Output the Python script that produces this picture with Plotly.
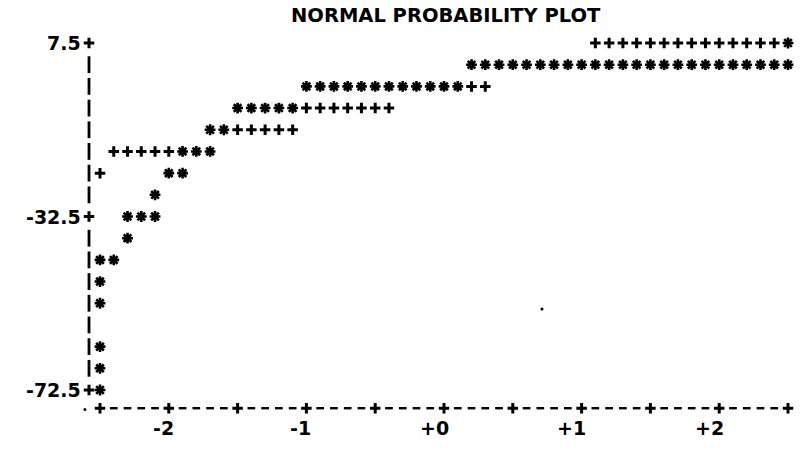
import numpy as np
import plotly.graph_objects as go

# ---------------- data ----------------
title = "NORMAL PROBABILITY PLOT"

# '*' = observations: normal quantile (x) and value (y)
star_q = [2.5,
          0.2, 0.3, 0.4, 0.5, 0.6, 0.7, 0.8, 0.9, 1.0, 1.1, 1.2, 1.3,
          1.4, 1.5, 1.6, 1.7, 1.8, 1.9, 2.0, 2.1, 2.2, 2.3, 2.4, 2.5,
          -1.0, -0.9, -0.8, -0.7, -0.6, -0.5, -0.4, -0.3, -0.2, -0.1, 0.0, 0.1,
          -1.5, -1.4, -1.3, -1.2, -1.1,
          -1.7, -1.6,
          -1.9, -1.8, -1.7,
          -2.0, -1.9,
          -2.1,
          -2.3, -2.2, -2.1,
          -2.3,
          -2.5, -2.4,
          -2.5, -2.5, -2.5, -2.5, -2.5]
star_v = [7.5,
          2.5, 2.5, 2.5, 2.5, 2.5, 2.5, 2.5, 2.5, 2.5, 2.5, 2.5, 2.5,
          2.5, 2.5, 2.5, 2.5, 2.5, 2.5, 2.5, 2.5, 2.5, 2.5, 2.5, 2.5,
          -2.5, -2.5, -2.5, -2.5, -2.5, -2.5, -2.5, -2.5, -2.5, -2.5, -2.5, -2.5,
          -7.5, -7.5, -7.5, -7.5, -7.5,
          -12.5, -12.5,
          -17.5, -17.5, -17.5,
          -22.5, -22.5,
          -27.5,
          -32.5, -32.5, -32.5,
          -37.5,
          -42.5, -42.5,
          -47.5, -52.5, -62.5, -67.5, -72.5]

# '+' = reference normal line
ref_q = [1.1, 1.2, 1.3, 1.4, 1.5, 1.6, 1.7, 1.8, 1.9, 2.0, 2.1, 2.2, 2.3, 2.4,
         0.2, 0.3,
         -1.0, -0.9, -0.8, -0.7, -0.6, -0.5, -0.4,
         -1.5, -1.4, -1.3, -1.2, -1.1,
         -2.4, -2.3, -2.2, -2.1, -2.0,
         -2.5]
ref_v = [7.5] * 14 + [-2.5] * 2 + [-7.5] * 7 + [-12.5] * 5 + [-17.5] * 5 + [-22.5]

# stray specks on the printout
speck_q = [0.712, -2.61]
speck_v = [-53.8, -77.0]

y_ticks = [7.5, -32.5, -72.5]
y_tick_labels = ["7.5", "-32.5", "-72.5"]
x_ticks = [-2, -1, 0, 1, 2]
x_tick_labels = ["-2", "-1", "+0", "+1", "+2"]

# ---------------- layout geometry ----------------
W, H = 801, 449
px_x0, px_x1 = 100.0, 788.0      # pixel of quantile -2.5 / +2.5
px_y0, px_y1 = 43.0, 390.0       # pixel of value 7.5 / -72.5
sx = 5.0 / (px_x1 - px_x0)
sy = 80.0 / (px_y1 - px_y0)
x_range = [-2.5 - px_x0 * sx, -2.5 + (W - px_x0) * sx]
y_range = [7.5 - (H - px_y0) * sy, 7.5 + px_y0 * sy]

axis_x = -2.5 - 11 * sx          # column of the '|' axis
axis_row = -76.7                 # row of the '+----+' axis
label_row = -81.2

BLACK = "#000000"
FONT = dict(family="DejaVu Sans", size=19, color=BLACK, weight="bold")
TITLE_FONT = dict(family="DejaVu Sans", size=19.5, color=BLACK, weight="bold")
PLUS = dict(symbol="cross-thin-open", size=7.5, color=BLACK,
            line=dict(width=3.0, color=BLACK))

fig = go.Figure()

# vertical axis made of '|' characters
bar_rows = [v for v in np.arange(2.5, -70, -5.0) if abs(v - (-32.5)) > 1e-6]
fig.add_trace(go.Scatter(
    x=[axis_x] * len(bar_rows), y=bar_rows, mode="markers", hoverinfo="skip",
    marker=dict(symbol="line-ns-open", size=12, color=BLACK,
                line=dict(width=2.8, color=BLACK)), showlegend=False))
# y tick '+' on the axis
fig.add_trace(go.Scatter(
    x=[axis_x] * len(y_ticks), y=y_ticks, mode="markers", hoverinfo="skip",
    marker=PLUS, showlegend=False))

# horizontal axis made of '+----+----+'
cols = np.round(np.arange(-2.5, 2.5001, 0.1), 2)
plus_cols = [c for c in cols if abs(round(c * 2) - c * 2) < 1e-6]
dash_cols = [c for c in cols if abs(round(c * 2) - c * 2) >= 1e-6]
fig.add_trace(go.Scatter(
    x=dash_cols, y=[axis_row] * len(dash_cols), mode="markers", hoverinfo="skip",
    marker=dict(symbol="line-ew-open", size=5.5, color=BLACK,
                line=dict(width=2.4, color=BLACK)), showlegend=False))
fig.add_trace(go.Scatter(
    x=plus_cols, y=[axis_row] * len(plus_cols), mode="markers", hoverinfo="skip",
    marker=PLUS, showlegend=False))

# reference line '+'
fig.add_trace(go.Scatter(
    x=ref_q, y=ref_v, mode="markers", name="reference",
    marker=PLUS, showlegend=False))
# data '*'
fig.add_trace(go.Scatter(
    x=star_q, y=star_v, mode="markers", name="data",
    marker=dict(symbol="asterisk-open", size=9, color=BLACK,
                line=dict(width=2.6, color=BLACK)), showlegend=False))
# specks
fig.add_trace(go.Scatter(
    x=speck_q, y=speck_v, mode="markers", hoverinfo="skip",
    marker=dict(symbol="circle", size=3, color=BLACK), showlegend=False))

annotations = [dict(x=0.015, y=7.5 + 28 * sy, text=title, showarrow=False,
                    xanchor="center", yanchor="middle", font=TITLE_FONT)]
for v, t in zip(y_ticks, y_tick_labels):
    annotations.append(dict(x=axis_x - 0.045, y=v, text=t, showarrow=False,
                            xanchor="right", yanchor="middle", font=FONT))
for q, t in zip(x_ticks, x_tick_labels):
    annotations.append(dict(x=q + 0.05, y=label_row, text=t, showarrow=False,
                            xanchor="right", yanchor="middle", font=FONT))

fig.update_layout(
    width=W, height=H, margin=dict(l=0, r=0, t=0, b=0),
    paper_bgcolor="white", plot_bgcolor="white",
    xaxis=dict(range=x_range, visible=False, fixedrange=True),
    yaxis=dict(range=y_range, visible=False, fixedrange=True),
    annotations=annotations, showlegend=False, hovermode=False,
)

fig.write_html("out.html", config={"displayModeBar": False},
               post_script="document.body.style.margin='0';"
                           "document.body.style.overflow='hidden';")
